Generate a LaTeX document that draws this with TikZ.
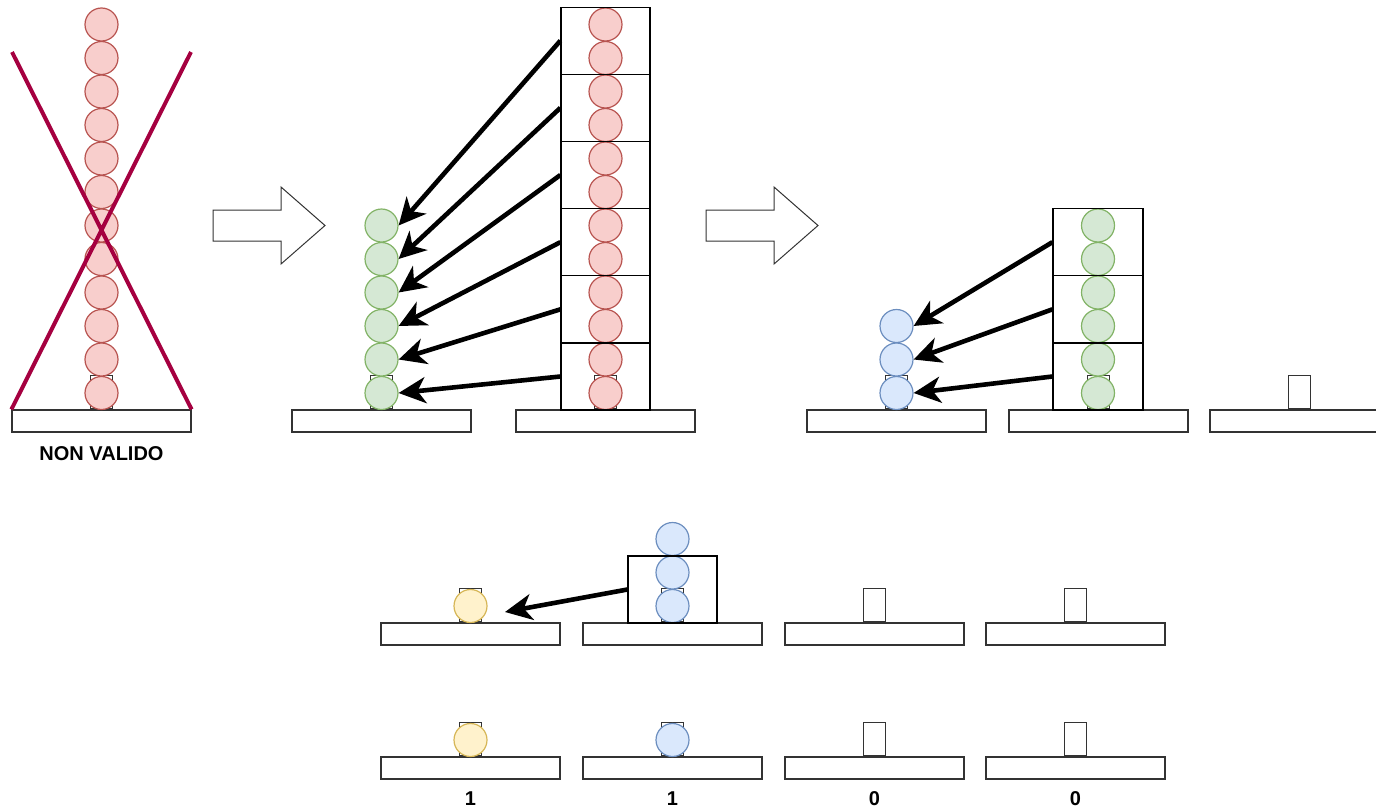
\documentclass[tikz,border=0pt]{standalone}
\usepackage{fontspec}
\setmainfont{Liberation Sans}
\usepackage{xcolor}
\usepackage{tikz}
\usetikzlibrary{positioning, arrows.meta}
\definecolor{redline}{HTML}{B85450}
\definecolor{redfill}{HTML}{F8CECC}
\definecolor{greenline}{HTML}{82B366}
\definecolor{greenfill}{HTML}{D5E8D4}
\definecolor{blueline}{HTML}{6C8EBF}
\definecolor{bluefill}{HTML}{DAE8FC}
\definecolor{yellowline}{HTML}{D6B656}
\definecolor{yellowfill}{HTML}{FFF2CC}
\definecolor{crosscol}{HTML}{A50040}
\tikzset{
	x=1pt, y=-1pt,
	board/.style={draw=black!80, line width=1.2pt, minimum width=179pt, minimum height=22pt, inner sep=0pt},
	peg/.style={draw=black!80, line width=1.2pt, minimum width=22pt, minimum height=33pt, inner sep=0pt},
	disk/.style={circle, line width=1.2pt, minimum size=33pt, inner sep=0pt},
	red disk/.style={disk, draw=redline, fill=redfill},
	green disk/.style={disk, draw=greenline, fill=greenfill},
	blue disk/.style={disk, draw=blueline, fill=bluefill},
	yellow disk/.style={disk, draw=yellowline, fill=yellowfill},
	grp/.style={draw=black, line width=1.2pt, minimum width=89pt, minimum height=67pt, inner sep=0pt},
	transfer/.style={-{Stealth[length=27pt, width=26pt, inset=8pt]}, line width=4.6pt},
	fat arrow/.style={draw=black!80, line width=1pt, fill=white},
	strike/.style={draw=crosscol, line width=4pt},
	verdict/.style={font=\bfseries\fontsize{20}{24}\selectfont, inner sep=0pt}
}

\begin{document}
\begin{tikzpicture}
	\useasboundingbox (0,0) rectangle (1376,809);
	% invalid move
	\node[board] (b1) at (101.5,421) {};
	\node[peg, above=0pt of b1] (p1) {};
	\foreach \i in {0,...,11}
		\node[red disk] (a\i) at (101.5,393-33.5*\i) {};
	\coordinate (x1) at (12,52);
	\coordinate (x2) at (191,52);
	\draw[strike] (b1.north west) -- (x2) (b1.north east) -- (x1);
	\node[verdict] (nv) at (101.5,454) {NON VALIDO};
	
	\draw[fat arrow] (213,210) -- (281,210) -- (281,187) -- (325,225.5) -- (281,264) -- (281,241) -- (213,241) -- cycle;
	
	% groups of two
	\node[board] (b2) at (381.5,421) {};
	\node[peg, above=0pt of b2] (p2) {};
	\foreach \i in {0,...,5}
		\node[green disk] (g\i) at (381.5,393-33.5*\i) {};
	\node[board] (b3) at (605.5,421) {};
	\node[peg, above=0pt of b3] (p3) {};
	\foreach \i in {0,...,11}
		\node[red disk] (r\i) at (605.5,393-33.5*\i) {};
	\foreach \i in {0,...,5}{
		\node[grp] (m\i) at (605.5,376.5-67.17*\i) {};
		\draw[transfer] (m\i.west) -- (g\i.east);
	}
	
	\draw[fat arrow] (706,210) -- (774,210) -- (774,187) -- (818,225.5) -- (774,264) -- (774,241) -- (706,241) -- cycle;
	
	\node[board] (b4) at (896.5,421) {};
	\node[peg, above=0pt of b4] (p4) {};
	\foreach \i in {0,...,2}
		\node[blue disk] (u\i) at (896.5,393-33.5*\i) {};
	\node[board] (b5) at (1098.5,421) {};
	\node[peg, above=0pt of b5] (p5) {};
	\foreach \i in {0,...,5}
		\node[green disk] (v\i) at (1098,393-33.5*\i) {};
	\foreach \i in {0,...,2}{
		\node[grp, minimum width=90pt] (n\i) at (1098,376.5-67.17*\i) {};
		\draw[transfer] (n\i.west) -- (u\i.east);
	}
	\node[board] (b6) at (1299.5,421) {};
	\node[peg, above=0pt of b6] (p6) {};
	
	% last step
	\node[board] (c1) at (470.5,634) {};
	\node[peg, above=0pt of c1] (q1) {};
	\node[yellow disk] (y1) at (470.5,606) {};
	\node[board] (c2) at (672.5,634) {};
	\node[peg, above=0pt of c2] (q2) {};
	\foreach \i in {0,...,2}
		\node[blue disk] (w\i) at (672.5,606-33.5*\i) {};
	\node[grp] (k) at (672.5,589.5) {};
	\coordinate (drop) at (505,612);
	\draw[transfer] (k.west) -- (drop);
	\node[board] (c3) at (874.5,634) {};
	\node[peg, above=0pt of c3] (q3) {};
	\node[board] (c4) at (1075.5,634) {};
	\node[peg, above=0pt of c4] (q4) {};
	
	% result
	\node[board] (d1) at (470.5,768) {};
	\node[peg, above=0pt of d1] (s1) {};
	\node[yellow disk] (y2) at (470.5,740) {};
	\node[board] (d2) at (672.5,768) {};
	\node[peg, above=0pt of d2] (s2) {};
	\node[blue disk] (w3) at (672.5,740) {};
	\node[board] (d3) at (874.5,768) {};
	\node[peg, above=0pt of d3] (s3) {};
	\node[board] (d4) at (1075.5,768) {};
	\node[peg, above=0pt of d4] (s4) {};
	\node[verdict] (t1) at (470.5,799) {1};
	\node[verdict] (t2) at (672.5,799) {1};
	\node[verdict] (t3) at (874.5,799) {0};
	\node[verdict] (t4) at (1075.5,799) {0};
\end{tikzpicture}
\end{document}
